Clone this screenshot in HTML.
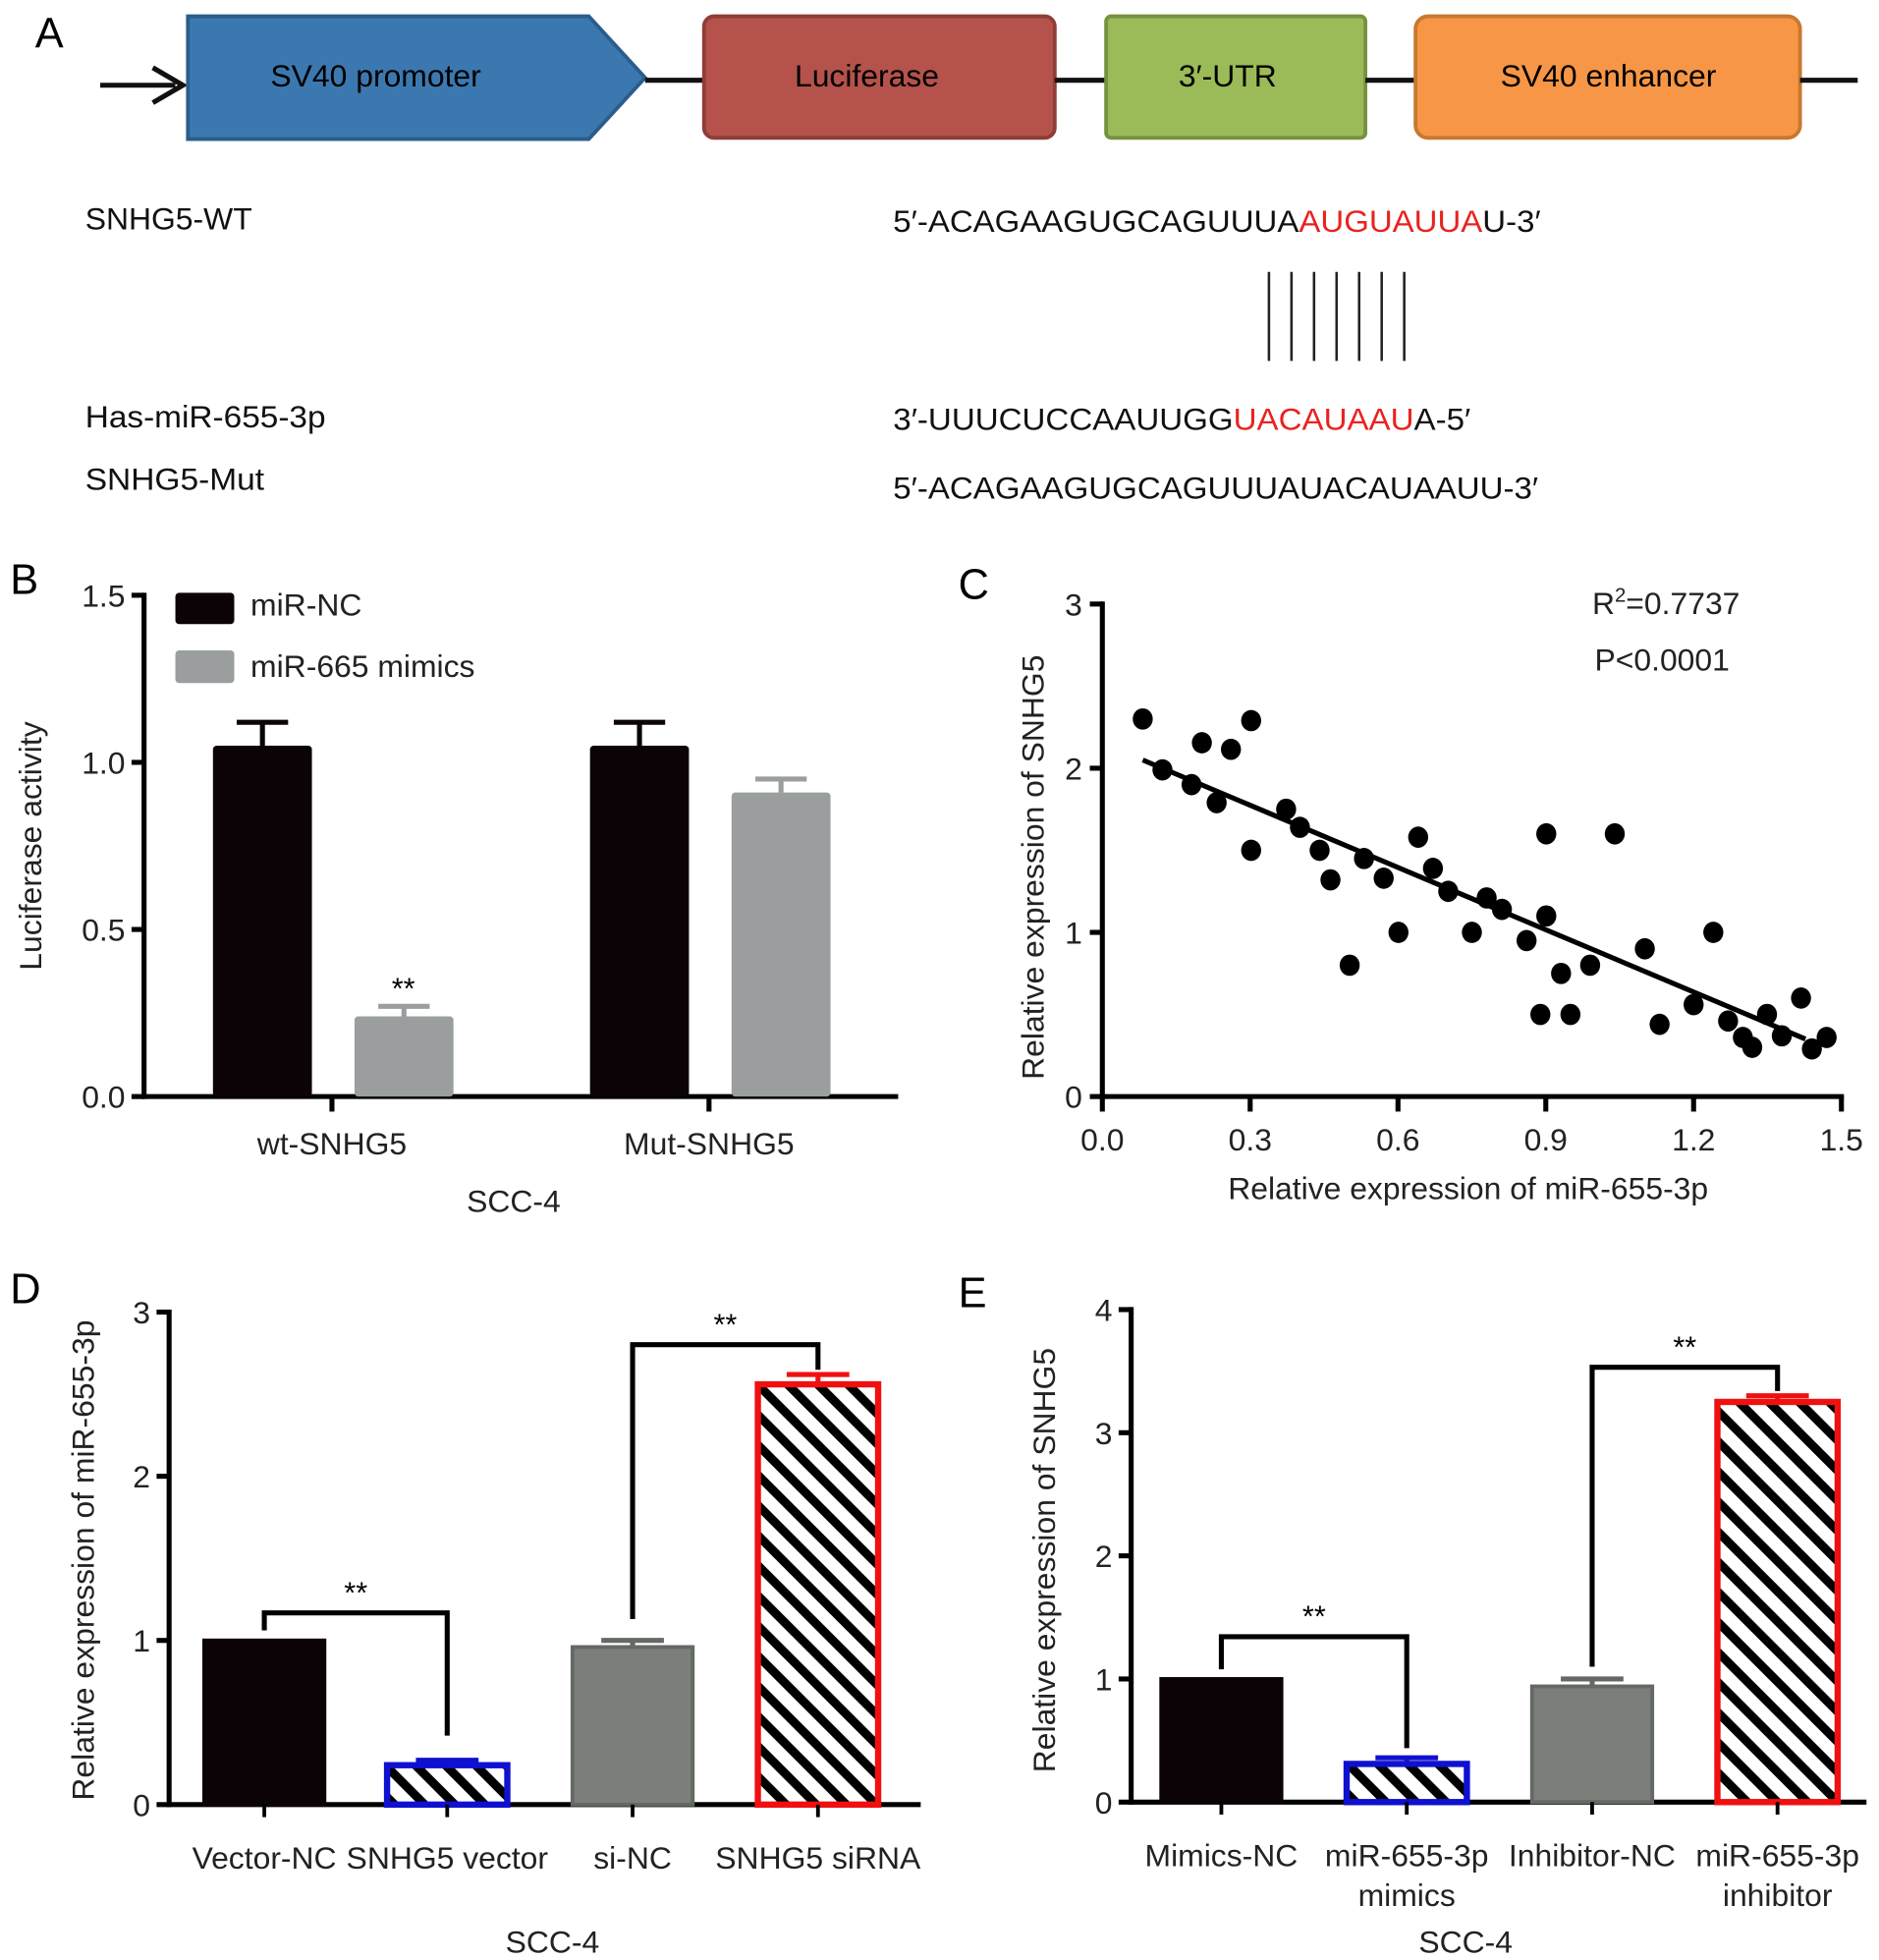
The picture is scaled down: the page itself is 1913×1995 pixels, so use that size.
<!DOCTYPE html>
<html><head><meta charset="utf-8"><style>
html,body{margin:0;padding:0;background:#fff}
svg{display:block;font-family:"Liberation Sans",Arial,sans-serif}
</style></head><body>
<svg id="fig" width="1913" height="1995" viewBox="0 0 1500 1564" preserveAspectRatio="none" xmlns="http://www.w3.org/2000/svg">
<defs>
<pattern id="hatch" patternUnits="userSpaceOnUse" width="17" height="17" patternTransform="rotate(-45)">
<rect width="17" height="17" fill="#fff"/><rect x="0" y="0" width="7" height="17" fill="#000"/>
</pattern>
</defs>
<g>
<text x="28" y="38" font-size="34">A</text>
<line x1="80" y1="68" x2="140" y2="68" stroke="#111" stroke-width="4"/>
<path d="M122 54 L146 68 L122 82" fill="none" stroke="#111" stroke-width="4"/>
<path d="M150 13 L470 13 L515 62 L470 111 L150 111 Z" fill="#3c78b0" stroke="#2b5d8c" stroke-width="3"/>
<text x="300" y="69" font-size="25" text-anchor="middle">SV40 promoter</text>
<line x1="515" y1="64" x2="562" y2="64" stroke="#111" stroke-width="4"/>
<rect x="562" y="13" width="280" height="97" rx="8" fill="#b5524b" stroke="#8f3d37" stroke-width="3"/>
<text x="692" y="69" font-size="25" text-anchor="middle">Luciferase</text>
<line x1="842" y1="64" x2="883" y2="64" stroke="#111" stroke-width="4"/>
<rect x="883" y="13" width="207" height="97" rx="4" fill="#9bbb59" stroke="#77923f" stroke-width="3"/>
<text x="980" y="69" font-size="25" text-anchor="middle">3′-UTR</text>
<line x1="1090" y1="64" x2="1130" y2="64" stroke="#111" stroke-width="4"/>
<rect x="1130" y="13" width="307" height="97" rx="10" fill="#f79646" stroke="#c8782f" stroke-width="3"/>
<text x="1284" y="69" font-size="25" text-anchor="middle">SV40 enhancer</text>
<line x1="1437" y1="64" x2="1483" y2="64" stroke="#111" stroke-width="4"/>
<g font-size="25" fill="#111">
<text x="68" y="183">SNHG5-WT</text>
<text x="713" y="185" textLength="517" lengthAdjust="spacingAndGlyphs">5′-ACAGAAGUGCAGUUUA<tspan fill="#e8231f">AUGUAUUA</tspan>U-3′</text>
<text x="68" y="341" textLength="192" lengthAdjust="spacingAndGlyphs">Has-miR-655-3p</text>
<text x="713" y="343" textLength="461" lengthAdjust="spacingAndGlyphs">3′-UUUCUCCAAUUGG<tspan fill="#e8231f">UACAUAAU</tspan>A-5′</text>
<text x="68" y="391" textLength="143" lengthAdjust="spacingAndGlyphs">SNHG5-Mut</text>
<text x="713" y="398" textLength="515" lengthAdjust="spacingAndGlyphs">5′-ACAGAAGUGCAGUUUAUACAUAAUU-3′</text>
</g>
<g stroke="#222" stroke-width="2">
<line x1="1013" y1="217" x2="1013" y2="288"/><line x1="1031" y1="217" x2="1031" y2="288"/><line x1="1049" y1="217" x2="1049" y2="288"/><line x1="1067" y1="217" x2="1067" y2="288"/><line x1="1085" y1="217" x2="1085" y2="288"/><line x1="1103" y1="217" x2="1103" y2="288"/><line x1="1121" y1="217" x2="1121" y2="288"/>
</g>
</g>
<g id="panelB"></g>
<g id="panelC"></g>
<g id="panelD"></g>
<g id="panelE"></g>
</svg>
<script>
// Panel B data
const bGroups = ["wt-SNHG5", "Mut-SNHG5"];
const bNC = [1.05, 1.05];
const bNCerr = [0.07, 0.07];
const bMimic = [0.24, 0.91];
const bMimicErr = [0.03, 0.04];
const bTicks = ["0.0", "0.5", "1.0", "1.5"];
const bTickVals = [0, 0.5, 1.0, 1.5];
// Panel C data
const cX = [0.082,0.122,0.202,0.261,0.302,0.181,0.232,0.302,0.373,0.401,0.441,0.463,0.531,0.571,0.641,0.671,0.702,0.601,0.502,0.750,0.780,0.811,0.861,0.901,0.901,0.931,0.889,0.950,0.990,1.040,1.101,1.131,1.200,1.240,1.270,1.300,1.319,1.349,1.379,1.418,1.440,1.470];
const cY = [2.30,1.99,2.155,2.115,2.29,1.90,1.79,1.50,1.75,1.64,1.50,1.32,1.45,1.33,1.58,1.39,1.25,1.00,0.80,1.00,1.21,1.14,0.95,1.60,1.10,0.75,0.50,0.50,0.80,1.60,0.90,0.44,0.56,1.00,0.46,0.36,0.30,0.50,0.37,0.60,0.29,0.36];
const cFitX = [0.082, 1.427];
const cFitY = [2.05, 0.35];
const cXTicks = ["0.0","0.3","0.6","0.9","1.2","1.5"];
const cXTickVals = [0,0.3,0.6,0.9,1.2,1.5];
const cYTickVals = [0,1,2,3];
// Panel D data
const dCats = ["Vector-NC","SNHG5 vector","si-NC","SNHG5 siRNA"];
const dVals = [1.0, 0.24, 0.96, 2.56];
const dErr = [0, 0.03, 0.04, 0.06];
const dTickVals = [0,1,2,3];
// Panel E data
const eCats = [["Mimics-NC"],["miR-655-3p","mimics"],["Inhibitor-NC"],["miR-655-3p","inhibitor"]];
const eVals = [1.0, 0.31, 0.94, 3.25];
const eErr = [0, 0.05, 0.06, 0.05];
const eTickVals = [0,1,2,3,4];

const NS="http://www.w3.org/2000/svg";
const FS=25;
function mk(parent, tag, attrs, text){
  const el=document.createElementNS(NS,tag);
  for(const k in attrs) el.setAttribute(k,attrs[k]);
  if(text!==undefined) el.textContent=text;
  parent.appendChild(el); return el;
}
function lin(d0,d1,r0,r1){return v=>r0+(v-d0)/(d1-d0)*(r1-r0);}

(function(){
  const g=document.getElementById('panelB');
  const y=lin(0,1.5,875,475);
  const ax=115, right=717;
  let t=mk(g,'text',{x:8,y:474,'font-size':34},'B');
   
  let l=mk(g,'line',{x1:ax,y1:473,x2:ax,y2:877,stroke:'#000','stroke-width':4});
   
  l=mk(g,'line',{x1:ax-2,y1:875,x2:right,y2:875,stroke:'#000','stroke-width':4});
   
  bTickVals.forEach((v,i)=>{
    const tk=mk(g,'line',{x1:ax-10,y1:y(v),x2:ax,y2:y(v),stroke:'#000','stroke-width':4});
     
    const tl=mk(g,'text',{x:ax-15,y:y(v)+9,'font-size':FS,'text-anchor':'end',fill:'#222'},bTicks[i]);
     
  });
  const centers=[265,566];
  bGroups.forEach((name,i)=>{
    const c=centers[i];
    [[bNC[i],bNCerr[i],c-95,'#0b0306'],[bMimic[i],bMimicErr[i],c+18,'#9a9e9f']].forEach(([v,e,x0,col],j)=>{
      const b=mk(g,'rect',{x:x0,y:y(v),width:79,height:875-y(v),rx:3,fill:col});
       
      const eb=mk(g,'path',{d:`M${x0+39.5} ${y(v)} V${y(v+e)} M${x0+19} ${y(v+e)} H${x0+60}`,stroke:col,'stroke-width':4,fill:'none'});
       
    });
    const tk=mk(g,'line',{x1:c,y1:875,x2:c,y2:887,stroke:'#000','stroke-width':4});
     
    const tl=mk(g,'text',{x:c,y:921,'font-size':FS,'text-anchor':'middle',fill:'#222'},name);
     
  });
  t=mk(g,'text',{x:322,y:y(bMimic[0]+bMimicErr[0])-6,'font-size':24,'text-anchor':'middle'},'**');
   
  let r=mk(g,'rect',{x:140,y:473,width:47,height:25,rx:3,fill:'#0b0306'});
   
  t=mk(g,'text',{x:200,y:491,'font-size':FS,fill:'#222'},'miR-NC');
   
  r=mk(g,'rect',{x:140,y:519,width:47,height:26,rx:3,fill:'#9a9e9f'});
   
  t=mk(g,'text',{x:200,y:540,'font-size':FS,fill:'#222'},'miR-665 mimics');
   
  t=mk(g,'text',{x:0,y:0,'font-size':FS,'text-anchor':'middle',fill:'#222',transform:'translate(33,675) rotate(-90)'},'Luciferase activity');
   
  t=mk(g,'text',{x:410,y:967,'font-size':FS,'text-anchor':'middle',fill:'#222'},'SCC-4');
   
})();

(function(){
  const g=document.getElementById('panelC');
  const x=lin(0,1.5,880,1470), y=lin(0,3,875,482);
  let t=mk(g,'text',{x:765,y:478,'font-size':34},'C');
   
  let l=mk(g,'line',{x1:880,y1:480,x2:880,y2:877,stroke:'#000','stroke-width':4});
   
  l=mk(g,'line',{x1:878,y1:875,x2:1472,y2:875,stroke:'#000','stroke-width':4});
   
  cYTickVals.forEach(v=>{
    const tk=mk(g,'line',{x1:870,y1:y(v),x2:880,y2:y(v),stroke:'#000','stroke-width':4});
     
    const tl=mk(g,'text',{x:864,y:y(v)+9,'font-size':FS,'text-anchor':'end',fill:'#222'},String(v));
     
  });
  cXTickVals.forEach((v,i)=>{
    const tk=mk(g,'line',{x1:x(v),y1:875,x2:x(v),y2:887,stroke:'#000','stroke-width':4});
     
    const tl=mk(g,'text',{x:x(v),y:918,'font-size':FS,'text-anchor':'middle',fill:'#222'},cXTicks[i]);
     
  });
  l=mk(g,'line',{x1:x(cFitX[0]),y1:y(cFitY[0]),x2:x(cFitX[1]),y2:y(cFitY[1]),stroke:'#000','stroke-width':4});
   
  cX.forEach((v,i)=>{
    const c=mk(g,'ellipse',{cx:x(v),cy:y(cY[i]),rx:8,ry:8.5,fill:'#000'});
     
  });
  t=mk(g,'text',{x:1271,y:490,'font-size':FS,fill:'#222'});
   
  t.innerHTML='R<tspan font-size="16" dy="-10">2</tspan><tspan dy="10">=0.7737</tspan>';
  t=mk(g,'text',{x:1273,y:535,'font-size':FS,fill:'#222'},'P<0.0001');
   
  t=mk(g,'text',{x:0,y:0,'font-size':FS,'text-anchor':'middle',fill:'#222',transform:'translate(833,692) rotate(-90)'},'Relative expression of SNHG5');
   
  t=mk(g,'text',{x:1172,y:957,'font-size':FS,'text-anchor':'middle',fill:'#222'},'Relative expression of miR-655-3p');
   
})();

function barPanel(id,letter,lx,ly,ax,right,y0,yTop,vmax,ticks,cats,vals,errs,centers,yTitle,yTitleX,yTitleY,brackets,sccX){
  const g=document.getElementById(id);
  const y=lin(0,vmax,y0,yTop);
  let t=mk(g,'text',{x:lx,y:ly,'font-size':34},letter);
   
  let l=mk(g,'line',{x1:ax,y1:yTop-2,x2:ax,y2:y0+2,stroke:'#000','stroke-width':4});
   
  l=mk(g,'line',{x1:ax-2,y1:y0,x2:right,y2:y0,stroke:'#000','stroke-width':4});
   
  ticks.forEach(v=>{
    const tk=mk(g,'line',{x1:ax-10,y1:y(v),x2:ax,y2:y(v),stroke:'#000','stroke-width':4});
     
    const tl=mk(g,'text',{x:ax-15,y:y(v)+9,'font-size':FS,'text-anchor':'end',fill:'#222'},String(v));
     
  });
  const styles=[{fill:'#0b0306',stroke:'#0b0306'},{fill:'url(#hatch)',stroke:'#1010d0'},{fill:'#7b7f7a',stroke:'#656964'},{fill:'url(#hatch)',stroke:'#f01010'}];
  cats.forEach((c,i)=>{
    const cx=centers[i], w=96, v=vals[i], st=styles[i];
    const b=mk(g,'rect',{x:cx-w/2,y:y(v),width:w,height:y0-y(v),fill:st.fill,stroke:st.stroke,'stroke-width':(i%2?5:3)});
     
    if(errs[i]>0){
      const eb=mk(g,'path',{d:`M${cx} ${y(v)} V${y(v+errs[i])} M${cx-25} ${y(v+errs[i])} H${cx+25}`,stroke:st.stroke,'stroke-width':4,fill:'none'});
       
    }
    const tk=mk(g,'line',{x1:cx,y1:y0,x2:cx,y2:y0+10,stroke:'#000','stroke-width':3});
     
    const lines=Array.isArray(c)?c:[c];
    lines.forEach((s,k)=>{
      const tl=mk(g,'text',{x:cx,y:y0+51+k*32,'font-size':FS,'text-anchor':'middle',fill:'#222'},s);
       
    });
  });
  brackets.forEach(([a,b,top,la,lb])=>{
    const p=mk(g,'path',{d:`M${centers[a]} ${la} V${top} H${centers[b]} V${lb}`,stroke:'#000','stroke-width':4,fill:'none'});
     
    const s=mk(g,'text',{x:(centers[a]+centers[b])/2,y:top-8,'font-size':24,'text-anchor':'middle'},'**');
     
  });
  t=mk(g,'text',{x:0,y:0,'font-size':FS,'text-anchor':'middle',fill:'#222',transform:`translate(${yTitleX},${yTitleY}) rotate(-90)`},yTitle);
   
  t=mk(g,'text',{x:sccX,y:1558,'font-size':FS,'text-anchor':'middle',fill:'#222'},'SCC-4');
   
}
barPanel('panelD','D',8,1040,135,735,1440,1047,3,dTickVals,dCats,dVals,dErr,[211,357,505,653],
  'Relative expression of miR-655-3p',75,1245,[[0,1,1287,1301,1385],[2,3,1073,1292,1093]],441);
barPanel('panelE','E',765,1043,903,1490,1438,1045,4,eTickVals,eCats,eVals,eErr,[975,1123,1271,1419],
  'Relative expression of SNHG5',842,1245,[[0,1,1306,1332,1395],[2,3,1091,1330,1110]],1170);
</script>
</body></html>
